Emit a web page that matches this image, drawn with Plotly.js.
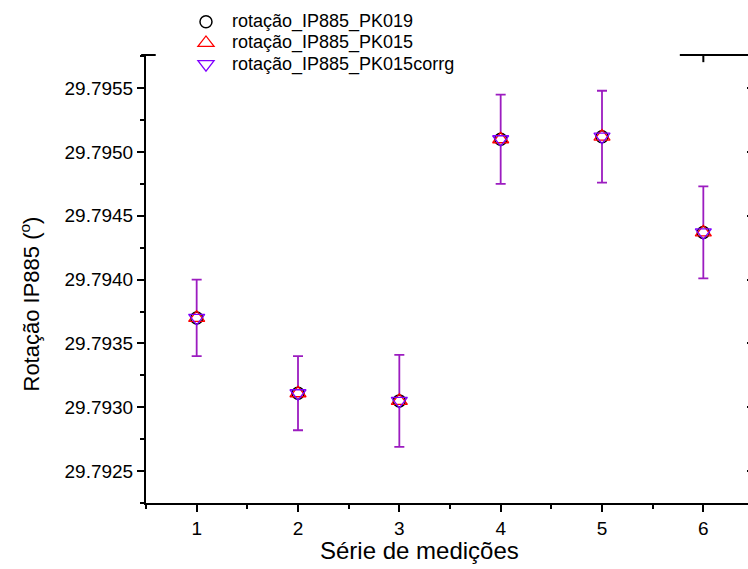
<!DOCTYPE html>
<html>
<head>
<meta charset="utf-8">
<script src="https://cdn.plot.ly/plotly-3.0.1.min.js"></script>
<style>
html,body{margin:0;padding:0;overflow:hidden;background:#fff;}
#chart{width:760px;height:569px;}
</style>
</head>
<body>
<div id="chart"></div>
<script>
// Data
const series_x = [1, 2, 3, 4, 5, 6];
const rot_PK019 = [29.79370, 29.79311, 29.79305, 29.79510, 29.79512, 29.79437];
const rot_PK015 = [29.79370, 29.79311, 29.79305, 29.79510, 29.79512, 29.79437];
const rot_PK015corrg = [29.79370, 29.79311, 29.79305, 29.79510, 29.79512, 29.79437];
const err_rot = [0.00030, 0.00029, 0.00036, 0.00035, 0.00036, 0.00036];
const names = ["rotação_IP885_PK019", "rotação_IP885_PK015", "rotação_IP885_PK015corrg"];
const xTickVals = [1, 2, 3, 4, 5, 6];
const yTickVals = [29.7925, 29.7930, 29.7935, 29.7940, 29.7945, 29.7950, 29.7955];

const font = "Arial, 'Liberation Sans', sans-serif";
const errColor = "#9c1cc0";
const legendName = n => '<span style="font-size:18px">' + n + '</span>';

const traces = [
  {
    x: series_x, y: rot_PK019, name: legendName(names[0]), type: "scatter", mode: "markers",
    marker: {symbol: "circle", size: 12, color: "#ffffff", line: {color: "#000000", width: 1.5}},
    error_y: {type: "data", array: err_rot, visible: true, color: errColor, thickness: 1.8, width: 5}
  },
  {
    x: series_x, y: rot_PK015, name: legendName(names[1]), type: "scatter", mode: "markers",
    marker: {symbol: "triangle-up-open", size: 14, color: "#ff0000", line: {color: "#ff0000", width: 1.3}}
  },
  {
    x: series_x, y: rot_PK015corrg, name: legendName(names[2]), type: "scatter", mode: "markers",
    marker: {symbol: "triangle-down-open", size: 14, color: "#8000ff", line: {color: "#8000ff", width: 1.3}}
  }
];

const yRange = [29.79225, 29.79576];

const layout = {
  width: 760, height: 569,
  margin: {l: 146, r: 6, t: 55, b: 66},
  paper_bgcolor: "#ffffff", plot_bgcolor: "#ffffff",
  font: {family: font, color: "#000"},
  showlegend: true,
  legend: {
    x: 0.0559, y: 1.109, xanchor: "left", yanchor: "top",
    bgcolor: "rgba(255,255,255,0)", borderwidth: 0,
    font: {family: font, size: 14, color: "#000"},
    itemwidth: 42
  },
  xaxis: {
    range: [0.5, 6.5], tickmode: "array", tickvals: xTickVals,
    ticks: "outside", ticklen: 7, tickwidth: 2, tickcolor: "#000",
    showline: true, linewidth: 2, linecolor: "#000",
    showgrid: false, zeroline: false,
    tickfont: {family: font, size: 19, color: "#000"},
    minor: {dtick: 0.5, tick0: 0.5, ticks: "outside", ticklen: 4, tickwidth: 2, tickcolor: "#000", showgrid: false}
  },
  yaxis: {
    range: yRange, tickmode: "array", tickvals: yTickVals,
    tickformat: ".4f",
    ticks: "outside", ticklen: 7, tickwidth: 2, tickcolor: "#000",
    showline: true, linewidth: 2, linecolor: "#000",
    showgrid: false, zeroline: false,
    tickfont: {family: font, size: 19, color: "#000"},
    minor: {dtick: 0.00025, tick0: 29.7925, ticks: "outside", ticklen: 4, tickwidth: 2, tickcolor: "#000", showgrid: false}
  },
  yaxis2: {
    range: yRange, overlaying: "y", side: "right", tickmode: "array", tickvals: yTickVals,
    ticks: "inside", ticklen: 7, tickwidth: 2, tickcolor: "#000",
    showline: true, linewidth: 2, linecolor: "#000",
    showticklabels: false, showgrid: false, zeroline: false
  },
  shapes: [
    {type: "line", xref: "paper", yref: "paper", x0: -0.008, x1: 0.016, y0: 1, y1: 1, line: {color: "#000", width: 2}},
    {type: "line", xref: "paper", yref: "paper", x0: 0.878, x1: 1.0, y0: 1, y1: 1, line: {color: "#000", width: 2}},
    {type: "line", xref: "x", yref: "paper", x0: 6, x1: 6, y0: 1, y1: 0.984, line: {color: "#000", width: 2}}
  ],
  annotations: [
    {text: "Rotação IP885 (<sup>o</sup>)", xref: "paper", yref: "paper", x: -0.191, y: 0.445,
     xanchor: "center", yanchor: "middle", textangle: -90, showarrow: false,
     font: {family: font, size: 22, color: "#000"}},
    {text: "Série de medições", xref: "paper", yref: "paper", x: 0.45, y: -0.107,
     xanchor: "center", yanchor: "middle", showarrow: false,
     font: {family: font, size: 24, color: "#000"}}
  ]
};

traces.push({x: [null], y: [null], yaxis: "y2", showlegend: false, hoverinfo: "skip", type: "scatter"});

Plotly.newPlot("chart", traces, layout, {displayModeBar: false, staticPlot: true});
</script>
</body>
</html>
